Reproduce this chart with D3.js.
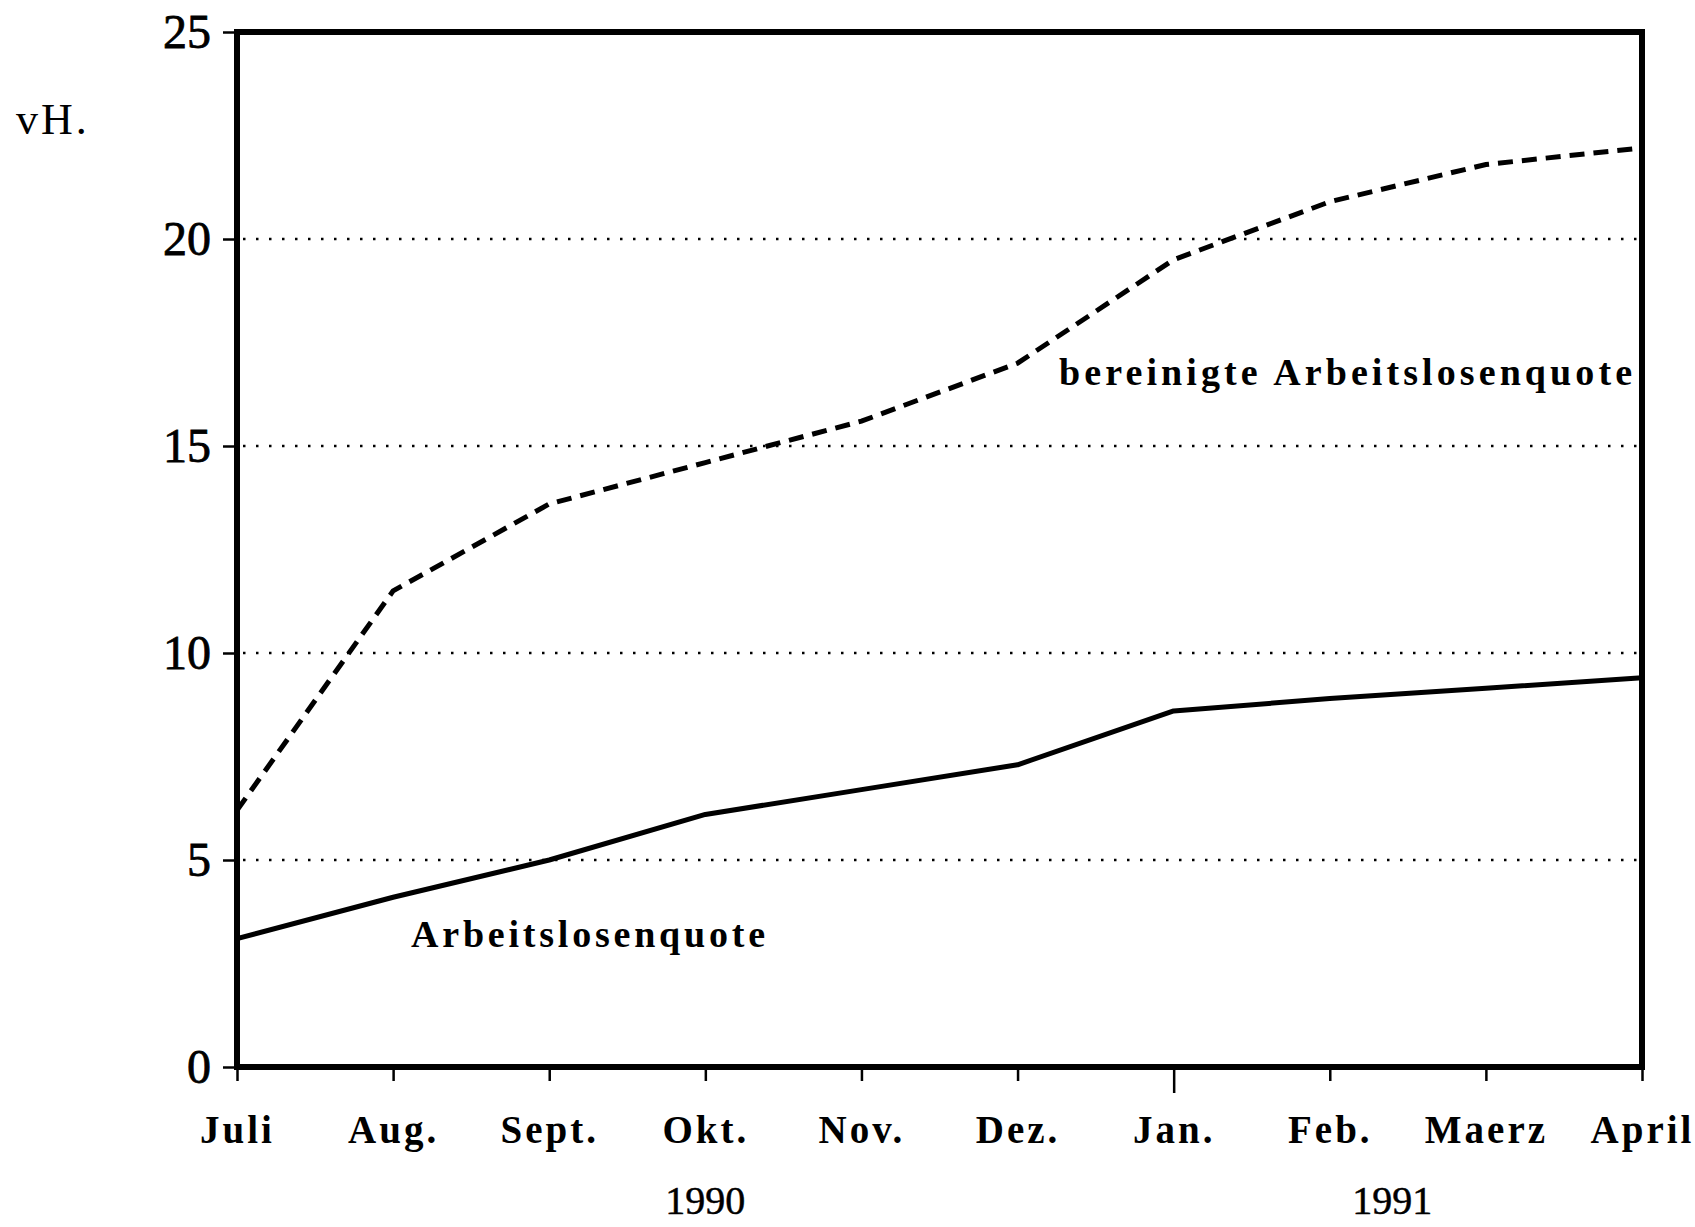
<!DOCTYPE html>
<html>
<head>
    <meta charset="utf-8">
    <title>Arbeitslosenquote</title>
    <script src="https://d3js.org/d3.v7.min.js"></script>
    <style>
        body { margin: 0; background: #fff; }
    </style>
</head>
<body>
<div id="chartContainer"></div>
<script>
// data (vH.)
var months = ["Juli", "Aug.", "Sept.", "Okt.", "Nov.", "Dez.", "Jan.", "Feb.", "Maerz", "April"];
var quote = [3.1, 4.1, 5.0, 6.1, 6.7, 7.3, 8.6, 8.9, 9.15, 9.4];
var bereinigt = [6.2, 11.5, 13.6, 14.6, 15.6, 17.0, 19.5, 20.9, 21.8, 22.2];
var yTicks = [0, 5, 10, 15, 20, 25];
var gridValues = [5, 10, 15, 20];
var years = ["1990", "1991"];
var yearPos = [3, 7.4];   // position in month index

var width = 1695, height = 1227;
var plotLeft = 237, plotRight = 1642, plotTop = 32, plotBottom = 1067;

var svg = d3.select("#chartContainer").append("svg")
    .attr("width", width)
    .attr("height", height);

var x = d3.scaleLinear().domain([0, months.length - 1]).range([plotLeft, plotRight]);
var y = d3.scaleLinear().domain([0, 25]).range([plotBottom, plotTop]);

// dotted grid lines
svg.selectAll(".grid")
    .data(gridValues)
    .enter()
    .append("line")
    .attr("x1", plotLeft + 6)
    .attr("x2", plotRight - 4)
    .attr("y1", function (d) { return y(d); })
    .attr("y2", function (d) { return y(d); })
    .style("stroke", "#000")
    .style("stroke-width", 2.5)
    .style("stroke-dasharray", "2.5,10.5");

// y axis ticks + labels
var yAxis = d3.axisLeft(y).tickValues(yTicks).tickSize(14).tickPadding(12);
var gy = svg.append("g").attr("transform", "translate(" + plotLeft + ",0)").call(yAxis);
gy.select(".domain").remove();
gy.selectAll("line").style("stroke", "#000").style("stroke-width", 2.5);
gy.selectAll("text")
    .style("font-family", "'Liberation Serif', serif")
    .style("font-size", "48px")
    .style("fill", "#000")
    .style("stroke", "#000")
    .style("stroke-width", 0.8);

// x axis ticks + labels
var xAxis = d3.axisBottom(x).tickValues(d3.range(months.length))
    .tickSize(14).tickPadding(34)
    .tickFormat(function (i) { return months[i]; });
var gx = svg.append("g").attr("transform", "translate(0," + plotBottom + ")").call(xAxis);
gx.select(".domain").remove();
gx.selectAll("line")
    .attr("y2", function (i) { return months[i] === "Jan." ? 26 : 14; })
    .style("stroke", "#000").style("stroke-width", 2.5);
gx.selectAll("text")
    .attr("dy", "0.71em")
    .style("font-family", "'Liberation Serif', serif")
    .style("font-weight", "bold")
    .style("font-size", "39px")
    .style("letter-spacing", "3px")
    .style("fill", "#000");

// year labels
svg.selectAll(".year")
    .data(years)
    .enter()
    .append("text")
    .attr("x", function (d, i) { return x(yearPos[i]); })
    .attr("y", 1214)
    .style("text-anchor", "middle")
    .style("font-family", "'Liberation Serif', serif")
    .style("font-size", "40px")
    .style("stroke", "#000")
    .style("stroke-width", 0.5)
    .text(function (d) { return d; });

// unit label
svg.append("text")
    .attr("x", 16)
    .attr("y", 134)
    .style("font-family", "'Liberation Serif', serif")
    .style("font-size", "44px")
    .style("letter-spacing", "3px")
    .text("vH.");

// the two lines
var line = d3.line()
    .x(function (d, i) { return x(i); })
    .y(function (d) { return y(d); });

svg.append("path")
    .datum(bereinigt)
    .attr("d", line)
    .style("fill", "none")
    .style("stroke", "#000")
    .style("stroke-width", 5)
    .style("stroke-dasharray", "15,9");

svg.append("path")
    .datum(quote)
    .attr("d", line)
    .style("fill", "none")
    .style("stroke", "#000")
    .style("stroke-width", 5)
    .style("stroke-linejoin", "round");

// line labels
svg.append("text")
    .attr("x", 1059)
    .attr("y", 385)
    .attr("textLength", 573)
    .attr("lengthAdjust", "spacing")
    .style("font-family", "'Liberation Serif', serif")
    .style("font-weight", "bold")
    .style("font-size", "38px")
    .text("bereinigte Arbeitslosenquote");

svg.append("text")
    .attr("x", 411)
    .attr("y", 947)
    .attr("textLength", 354)
    .attr("lengthAdjust", "spacing")
    .style("font-family", "'Liberation Serif', serif")
    .style("font-weight", "bold")
    .style("font-size", "38px")
    .text("Arbeitslosenquote");

// frame
svg.append("rect")
    .attr("x", plotLeft)
    .attr("y", plotTop)
    .attr("width", plotRight - plotLeft)
    .attr("height", plotBottom - plotTop)
    .style("fill", "none")
    .style("stroke", "#000")
    .style("stroke-width", 6);
</script>
</body>
</html>
